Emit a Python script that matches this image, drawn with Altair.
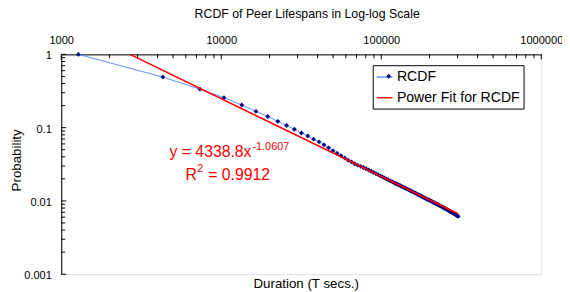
import altair as alt
import pandas as pd

# ---------------- data ----------------
duration = [
    1280, 4320, 7360, 10400, 13440, 16480, 19520, 22560, 25600, 28640,
    31680, 34720, 37760, 40800, 43840, 46880, 49920, 52960, 56000, 59040,
    62080, 65120, 68160, 71200, 74240, 77280, 80320, 83360, 86400, 89440,
    92480, 95520, 98560, 101600, 104640, 107680, 110720, 113760, 116800, 119840,
    122880, 125920, 128960, 132000, 135040, 138080, 141120, 144160, 147200, 150240,
    153280, 156320, 159360, 162400, 165440, 168480, 171520, 174560, 177600, 180640,
    183680, 186720, 189760, 192800, 195840, 198880, 201920, 204960, 208000, 211040,
    214080, 217120, 220160, 223200, 226240, 229280, 232320, 235360, 238400, 241440,
    244480, 247520, 250560, 253600, 256640, 259680, 262720, 265760, 268800, 271840,
    274880, 277920, 280960, 284000, 287040, 290080, 293120, 296160, 299200, 302240,
]
rcdf = [
    1.0, 0.49, 0.335, 0.256, 0.204, 0.167, 0.142, 0.122, 0.107, 0.0952,
    0.0846, 0.0771, 0.0696, 0.0640, 0.0583, 0.0531, 0.0484, 0.0447, 0.0415, 0.0386,
    0.0360, 0.0341, 0.0322, 0.0308, 0.0297, 0.0286, 0.0275, 0.0264, 0.0254, 0.0245,
    0.0236, 0.0228, 0.0220, 0.0213, 0.0206, 0.0200, 0.0194, 0.0188, 0.0183, 0.0178,
    0.0173, 0.0169, 0.0165, 0.0161, 0.0157, 0.0153, 0.0150, 0.0146, 0.0143, 0.0140,
    0.0137, 0.0134, 0.0131, 0.0129, 0.0126, 0.0123, 0.0121, 0.0119, 0.0116, 0.0114,
    0.0112, 0.0110, 0.0108, 0.0106, 0.0104, 0.0103, 0.0101, 0.00993, 0.00976, 0.00960,
    0.00945, 0.00930, 0.00916, 0.00902, 0.00889, 0.00875, 0.00862, 0.00849, 0.00837, 0.00825,
    0.00813, 0.00800, 0.00788, 0.00777, 0.00765, 0.00755, 0.00743, 0.00733, 0.00722, 0.00712,
    0.00702, 0.00692, 0.00683, 0.00673, 0.00664, 0.00655, 0.00646, 0.00637, 0.00628, 0.00615,
]
fit_duration = [2690, 302240]
fit_prob = [1.0, 0.00667]
series_names = ["RCDF", "Power Fit for RCDF"]

x_ticks_major = [1000, 10000, 100000, 1000000]
y_ticks_major = [0.001, 0.01, 0.1, 1]
mantissas = [2, 3, 4, 5, 6, 7, 8, 9]
x_ticks_minor = [m * d for d in [1000, 10000, 100000] for m in mantissas]
y_ticks_minor = [round(m * d, 6) for d in [0.001, 0.01, 0.1] for m in mantissas]

# annotation pieces: equation, its exponent, "R", its superscript, rest of R^2 line
ann_text = ["y = 4338.8x", "-1.0607", "R", "2", "= 0.9912"]
ann_x = [15450, 15450, 7036, 7036, 7036]
ann_y = [0.0392, 0.0503, 0.01953, 0.0250, 0.01953]

# ---------------- styling ----------------
FONT = "Liberation Sans"
BLUE = "#5F8DFF"
NAVY = "#000080"
RED = "#FF0000"

df = pd.DataFrame({"x": duration, "y": rcdf, "series": series_names[0], "marker": series_names[0]})
fit = pd.DataFrame({"x": fit_duration, "y": fit_prob, "series": series_names[1]})
ann = pd.DataFrame({"x": ann_x, "y": ann_y, "text": ann_text})

xs = alt.Scale(type="log", domain=[1000, 1000000], nice=False)
ys = alt.Scale(type="log", domain=[0.001, 1], nice=False)
cs = alt.Scale(domain=series_names, range=[BLUE, RED])

x_axis = alt.Axis(
    orient="top", values=x_ticks_major, labelExpr="'' + datum.value",
    ticks=False, grid=False, domainColor="black", domainWidth=1,
    labelFont=FONT, labelFontSize=11.2, labelColor="black", labelPadding=11,
    labelBaseline="alphabetic", labelFlush=False, labelOverlap=False,
    title="Duration (T secs.)", titleFont=FONT, titleFontSize=13.5,
    titleFontWeight="normal", titleColor="black", titleX=248, titleY=232,
    titleBaseline="middle", titleAlign="center",
)
y_axis = alt.Axis(
    values=y_ticks_major, labelExpr="'' + datum.value",
    ticks=False, grid=False, domainColor="black", domainWidth=1,
    labelFont=FONT, labelFontSize=11.2, labelColor="black", labelPadding=10,
    labelOffset=1.5, labelFlush=False, labelOverlap=False,
    title="Probability", titleFont=FONT, titleFontSize=13.5,
    titleFontWeight="normal", titleColor="black", titleAngle=270,
    titleX=-45.5, titleY=107, titleBaseline="middle", titleAlign="center",
)

legend = alt.Legend(
    title=None, orient="none", legendX=316, legendY=11,
    strokeColor="black", fillColor="white", padding=3, rowPadding=4,
    labelFont=FONT, labelFontSize=14.3, labelColor="black", labelOffset=3.5,
    symbolType="stroke", symbolSize=256, symbolStrokeWidth=1.4, cornerRadius=0,
    zindex=1,
)
marker_legend = alt.Legend(
    title=None, orient="none", legendX=316, legendY=12,
    strokeColor="transparent", fillColor="transparent", padding=3,
    labelFont=FONT, labelFontSize=14.3, labelColor="transparent", labelOffset=3.5,
    labelExpr="''",
    symbolType="diamond", symbolSize=24, symbolOffset=6,
    symbolFillColor=NAVY, symbolStrokeColor=NAVY, symbolStrokeWidth=0,
    zindex=2,
)

blue = alt.Chart(df).mark_line(strokeWidth=1).encode(
    x=alt.X("x:Q", scale=xs, axis=x_axis),
    y=alt.Y("y:Q", scale=ys, axis=y_axis),
    color=alt.Color("series:N", scale=cs, legend=legend),
)
points = alt.Chart(df).mark_point(filled=True, size=24, color=NAVY, opacity=1).encode(
    x="x:Q", y="y:Q",
    shape=alt.Shape("marker:N", scale=alt.Scale(domain=[series_names[0]], range=["diamond"]),
                    legend=marker_legend),
)
red = alt.Chart(fit).mark_line(strokeWidth=1.6).encode(
    x="x:Q", y="y:Q",
    color=alt.Color("series:N", scale=cs, legend=legend),
)

xt_minor = alt.Chart(pd.DataFrame({"x": x_ticks_minor})).mark_rule(color="black").encode(
    x="x:Q", y=alt.value(0), y2=alt.value(4))
xt_major = alt.Chart(pd.DataFrame({"x": x_ticks_major})).mark_rule(color="black").encode(
    x="x:Q", y=alt.value(0), y2=alt.value(5))
yt_minor = alt.Chart(pd.DataFrame({"y": y_ticks_minor})).mark_rule(color="black").encode(
    y="y:Q", x=alt.value(0), x2=alt.value(4))
yt_major = alt.Chart(pd.DataFrame({"y": y_ticks_major})).mark_rule(color="black").encode(
    y="y:Q", x=alt.value(0), x2=alt.value(5))

base_ann = alt.Chart(ann)


def ann_mark(label, align, size, dx=0):
    return base_ann.transform_filter(alt.datum.text == label).mark_text(
        align=align, baseline="alphabetic", font=FONT, fontSize=size, color=RED, dx=dx
    ).encode(x="x:Q", y="y:Q", text="text:N")


t1 = ann_mark(ann_text[0], "right", 16)
t2 = ann_mark(ann_text[1], "left", 11, 1)
t3 = ann_mark(ann_text[2], "right", 16)
t4 = ann_mark(ann_text[3], "left", 11, 0.5)
t5 = ann_mark(ann_text[4], "left", 16, 11.5)

chart = alt.layer(
    blue, points, red, xt_minor, xt_major, yt_minor, yt_major, t1, t2, t3, t4, t5
).properties(
    width=487, height=223,
    autosize=alt.AutoSizeParams(type="none"),
    padding={"left": 54, "top": 45, "right": 21, "bottom": 16},
    title=alt.TitleParams(
        "RCDF of Peer Lifespans in Log-log Scale", font=FONT, fontSize=12.5,
        fontWeight="normal", color="black", anchor="middle", dx=6, offset=14,
    ),
).configure_view(stroke="#808080", strokeWidth=1).configure(background="white")

chart.save("out.html", embed_options={"renderer": "svg", "actions": False})
